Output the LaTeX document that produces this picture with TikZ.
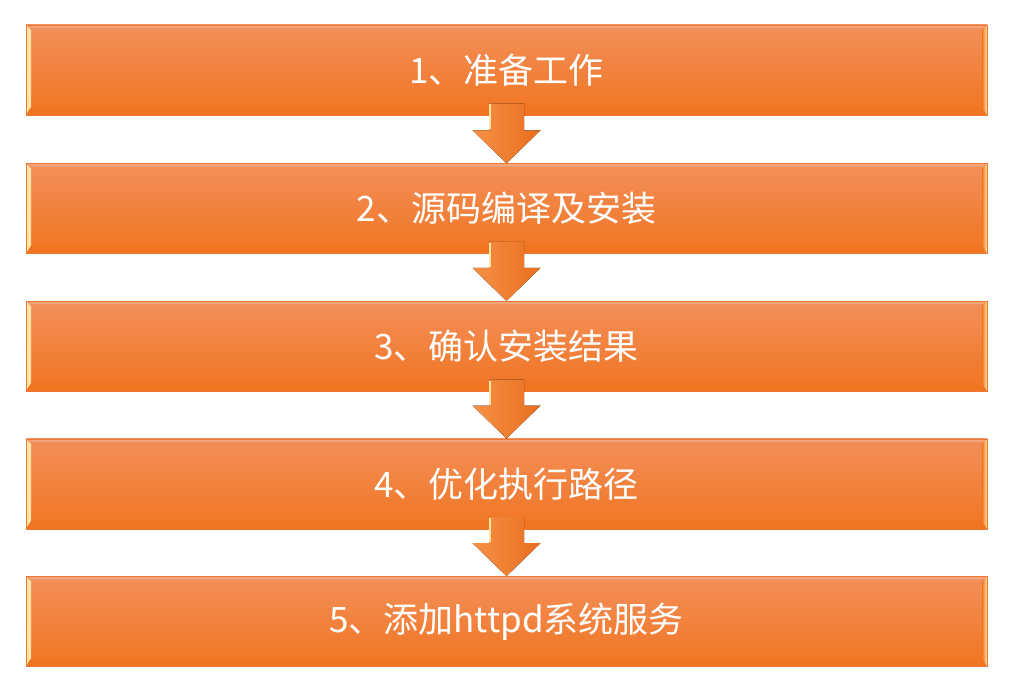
\documentclass[tikz,border=0pt]{standalone}
\usepackage{fontspec}
\newfontfamily\cjkfont{Noto Sans CJK SC}
\usetikzlibrary{positioning,calc}
\definecolor{boxtop}{RGB}{242,143,90}
\definecolor{boxbot}{RGB}{241,117,33}
\definecolor{bevel}{RGB}{255,230,165}
\definecolor{rimline}{RGB}{236,122,52}
\definecolor{arrowlight}{RGB}{246,145,70}
\definecolor{arrowdark}{RGB}{232,110,30}

\begin{document}
\begin{tikzpicture}[x=1pt,y=-1pt,
    stepbox/.style={minimum width=961pt,minimum height=90pt,inner sep=0pt,
      top color=boxtop,bottom color=boxbot,draw=rimline,line width=0.6pt,
      text=white,font=\cjkfont\fontsize{35pt}{42pt}\selectfont,
      path picture={
        \shade[left color=bevel,right color=boxtop]
          (path picture bounding box.south west) -- (path picture bounding box.north west)
          -- ([shift={(5pt,-5pt)}]path picture bounding box.north west)
          -- ([shift={(5pt,5pt)}]path picture bounding box.south west) -- cycle;
        \shade[top color=boxbot,middle color=bevel,bottom color=boxbot]
          (path picture bounding box.south west) -- (path picture bounding box.south east)
          -- ([shift={(-5pt,8pt)}]path picture bounding box.south east)
          -- ([shift={(5pt,8pt)}]path picture bounding box.south west) -- cycle;
        \shade[left color=boxbot,right color=bevel]
          (path picture bounding box.south east) -- (path picture bounding box.north east)
          -- ([shift={(-5pt,-5pt)}]path picture bounding box.north east)
          -- ([shift={(-5pt,8pt)}]path picture bounding box.south east) -- cycle;
        \fill[boxtop!80!white]
          (path picture bounding box.north west) -- (path picture bounding box.north east)
          -- ([shift={(-5pt,-3pt)}]path picture bounding box.north east)
          -- ([shift={(5pt,-3pt)}]path picture bounding box.north west) -- cycle;
      }},
    downarrow/.style={left color=arrowlight,right color=arrowdark,draw=none}]
  \useasboundingbox (0,0) rectangle (1019,674);
  \node[stepbox] (s1) at (506.5,70) {1、准备工作};
  \node[stepbox,below=48pt of s1] (s2) {2、源码编译及安装};
  \node[stepbox,below=47pt of s2] (s3) {3、确认安装结果};
  \node[stepbox,below=47pt of s3] (s4) {4、优化执行路径};
  \node[stepbox,below=47pt of s4] (s5) {5、添加httpd系统服务};
  \foreach \a/\b in {s1/s2,s2/s3,s3/s4,s4/s5}{
    \fill[downarrow] ($(\a.south)+(-17.5,-12)$) -- ($(\a.south)+(17.5,-12)$)
      -- ($(\b.north)+(17.5,-33)$) -- ($(\b.north)+(34,-33)$) -- (\b.north)
      -- ($(\b.north)+(-34,-33)$) -- ($(\b.north)+(-17.5,-33)$) -- cycle;
    \draw[bevel,line width=1.5pt] ($(\a.south)+(-16.5,-11)$) -- ($(\b.north)+(-16.5,-34)$);
  }
\end{tikzpicture}
\end{document}
